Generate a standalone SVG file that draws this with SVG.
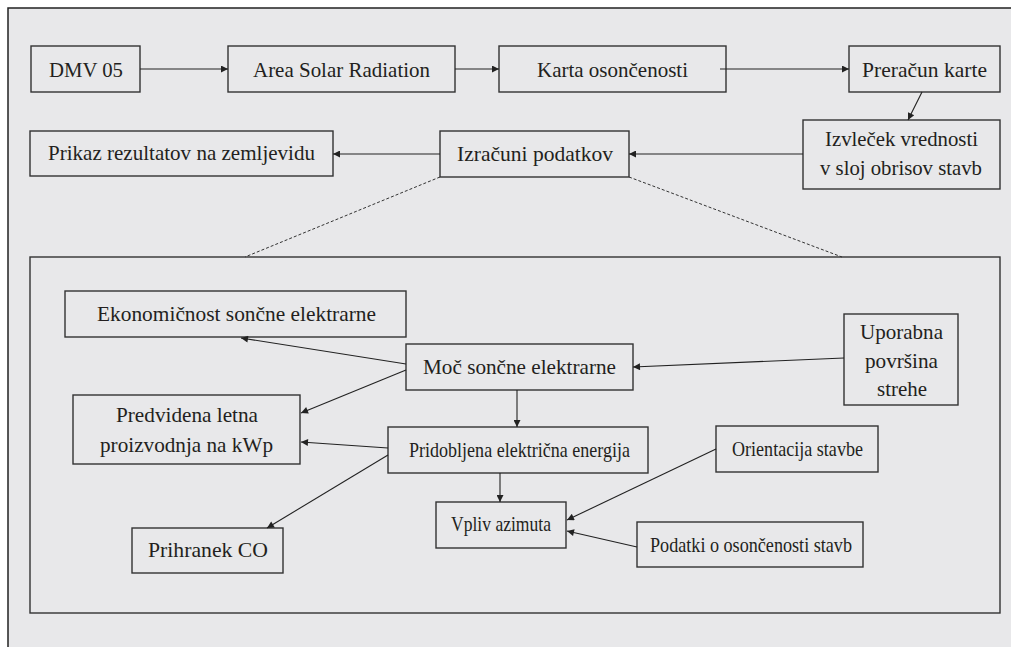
<svg xmlns="http://www.w3.org/2000/svg" width="1011" height="647" viewBox="0 0 1011 647">
<style>
.box{fill:none;stroke:#333;stroke-width:1.4}
.c{fill:none;stroke:#222;stroke-width:1.1}
.d{fill:none;stroke:#333;stroke-width:1;stroke-dasharray:3 2}
</style>
<defs>
<marker id="ah" viewBox="0 0 10 10" refX="10" refY="5" markerWidth="9" markerHeight="7" markerUnits="userSpaceOnUse" orient="auto">
<path d="M0,0 L10,5 L0,10 z" fill="#222"/>
</marker>
</defs>
<rect x="0" y="0" width="1011" height="647" fill="#fff"/>
<rect x="8" y="8" width="1010" height="650" fill="#e8e8ea" stroke="#222" stroke-width="1.5"/>
<rect x="30" y="257" width="970" height="356" class="box"/>
<g font-family="Liberation Serif" font-size="21" fill="#231f20">
<g id="n-dmv"><rect x="31" y="46" width="109" height="46" class="box"/><text x="49" y="77" textLength="74" lengthAdjust="spacingAndGlyphs">DMV 05</text></g>
<g id="n-area"><rect x="228" y="46" width="227" height="46" class="box"/><text x="253" y="77" textLength="177" lengthAdjust="spacingAndGlyphs">Area Solar Radiation</text></g>
<g id="n-karta"><rect x="499" y="46" width="227" height="46" class="box"/><text x="537" y="77" textLength="151" lengthAdjust="spacingAndGlyphs">Karta osončenosti</text></g>
<g id="n-preracun"><rect x="849" y="46" width="151" height="46" class="box"/><text x="862" y="77" textLength="125" lengthAdjust="spacingAndGlyphs">Preračun karte</text></g>
<g id="n-izvlecek"><rect x="803" y="120" width="197" height="69" class="box"/><text x="825" y="146" textLength="153" lengthAdjust="spacingAndGlyphs">Izvleček vrednosti</text><text x="820" y="175" textLength="162" lengthAdjust="spacingAndGlyphs">v sloj obrisov stavb</text></g>
<g id="n-izracuni"><rect x="440" y="131" width="189" height="46" class="box"/><text x="457" y="161" textLength="156" lengthAdjust="spacingAndGlyphs">Izračuni podatkov</text></g>
<g id="n-prikaz"><rect x="30" y="131" width="303" height="45" class="box"/><text x="48" y="160" textLength="267" lengthAdjust="spacingAndGlyphs">Prikaz rezultatov na zemljevidu</text></g>
<g id="n-ekon"><rect x="65" y="291" width="341" height="46" class="box"/><text x="97" y="321" textLength="279" lengthAdjust="spacingAndGlyphs">Ekonomičnost sončne elektrarne</text></g>
<g id="n-moc"><rect x="406" y="344" width="227" height="46" class="box"/><text x="423" y="374" textLength="193" lengthAdjust="spacingAndGlyphs">Moč sončne elektrarne</text></g>
<g id="n-uporabna"><rect x="844" y="314" width="114" height="91" class="box"/><text x="860" y="339" textLength="83" lengthAdjust="spacingAndGlyphs">Uporabna</text><text x="865" y="368" textLength="73" lengthAdjust="spacingAndGlyphs">površina</text><text x="877" y="396" textLength="50" lengthAdjust="spacingAndGlyphs">strehe</text></g>
<g id="n-predvidena"><rect x="73" y="395" width="227" height="69" class="box"/><text x="116" y="422" textLength="142" lengthAdjust="spacingAndGlyphs">Predvidena letna</text><text x="100" y="452" textLength="173" lengthAdjust="spacingAndGlyphs">proizvodnja na kWp</text></g>
<g id="n-pridobljena"><rect x="388" y="427" width="260" height="46" class="box"/><text x="409" y="457" textLength="221" lengthAdjust="spacingAndGlyphs">Pridobljena električna energija</text></g>
<g id="n-orientacija"><rect x="716" y="426" width="162" height="46" class="box"/><text x="732" y="456" textLength="131" lengthAdjust="spacingAndGlyphs">Orientacija stavbe</text></g>
<g id="n-vpliv"><rect x="436" y="502" width="130" height="46" class="box"/><text x="451" y="531" textLength="100" lengthAdjust="spacingAndGlyphs">Vpliv azimuta</text></g>
<g id="n-podatki"><rect x="637" y="522" width="226" height="45" class="box"/><text x="650" y="552" textLength="202" lengthAdjust="spacingAndGlyphs">Podatki o osončenosti stavb</text></g>
<g id="n-prihranek"><rect x="132" y="528" width="151" height="45" class="box"/><text x="148" y="557" textLength="120" lengthAdjust="spacingAndGlyphs">Prihranek CO</text></g>
</g>
<g id="connectors">
<line x1="140" y1="69" x2="228" y2="69" class="c" marker-end="url(#ah)"/>
<line x1="455" y1="69" x2="499" y2="69" class="c" marker-end="url(#ah)"/>
<line x1="720" y1="69" x2="849" y2="69" class="c" marker-end="url(#ah)"/>
<line x1="922" y1="92" x2="908" y2="120" class="c" marker-end="url(#ah)"/>
<line x1="803" y1="154" x2="629" y2="154" class="c" marker-end="url(#ah)"/>
<line x1="440" y1="154" x2="333" y2="154" class="c" marker-end="url(#ah)"/>
<line x1="440" y1="177" x2="245" y2="257" class="d"/>
<line x1="629" y1="177" x2="842" y2="257" class="d"/>
<line x1="406" y1="364" x2="241" y2="338" class="c" marker-end="url(#ah)"/>
<line x1="406" y1="370" x2="301" y2="413" class="c" marker-end="url(#ah)"/>
<line x1="844" y1="358" x2="633" y2="367" class="c" marker-end="url(#ah)"/>
<line x1="517" y1="390" x2="517" y2="427" class="c" marker-end="url(#ah)"/>
<line x1="388" y1="448" x2="301" y2="442" class="c" marker-end="url(#ah)"/>
<line x1="388" y1="455" x2="267" y2="528" class="c" marker-end="url(#ah)"/>
<line x1="500" y1="473" x2="500" y2="502" class="c" marker-end="url(#ah)"/>
<line x1="716" y1="449" x2="567" y2="520" class="c" marker-end="url(#ah)"/>
<line x1="637" y1="547" x2="567" y2="531" class="c" marker-end="url(#ah)"/>
</g>
</svg>
